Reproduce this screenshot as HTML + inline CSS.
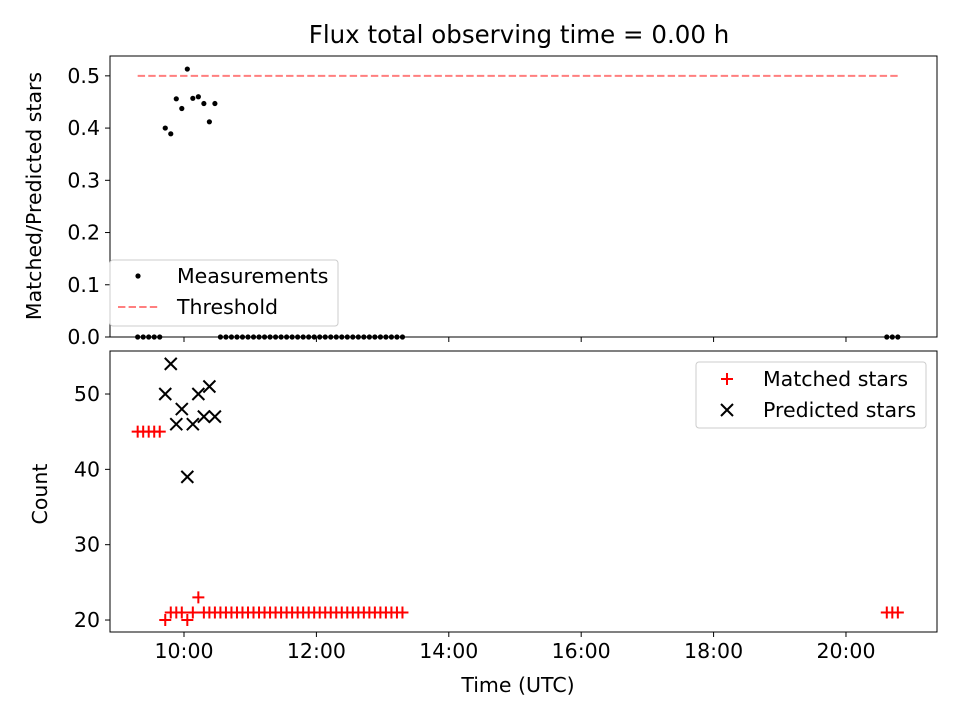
<!DOCTYPE html>
<html><head><meta charset="utf-8"><style>
body{margin:0;background:#fff;font-family:"Liberation Sans","DejaVu Sans",sans-serif}
svg text{font-family:"DejaVu Sans","Liberation Sans",sans-serif}
</style></head><body>
<svg id="c" width="960" height="720" xmlns="http://www.w3.org/2000/svg"></svg>
<script>
const times=["9:18","9:23","9:28","9:33","9:38","9:43","9:48","9:53","9:58","10:03","10:08","10:13","10:18","10:23","10:28","10:33","10:38","10:43","10:48","10:53","10:58","11:03","11:08","11:13","11:18","11:23","11:28","11:33","11:38","11:43","11:48","11:53","11:58","12:03","12:08","12:13","12:18","12:23","12:28","12:33","12:38","12:43","12:48","12:53","12:58","13:03","13:08","13:13","13:18","20:37","20:42","20:47"];
const ratio=[0,0,0,0,0,0.400,0.389,0.456,0.4375,0.513,0.457,0.46,0.447,0.412,0.447,0,0,0,0,0,0,0,0,0,0,0,0,0,0,0,0,0,0,0,0,0,0,0,0,0,0,0,0,0,0,0,0,0,0,0,0,0];
const matched=[45,45,45,45,45,20,21,21,21,20,21,23,21,21,21,21,21,21,21,21,21,21,21,21,21,21,21,21,21,21,21,21,21,21,21,21,21,21,21,21,21,21,21,21,21,21,21,21,21,21,21,21];
const predicted=[null,null,null,null,null,50,54,46,48,39,46,50,47,51,47];
const threshold=0.5, thrStart="9:18", thrEnd="20:47";
const xTicks=["10:00","12:00","14:00","16:00","18:00","20:00"];
const topTicks=[0,0.1,0.2,0.3,0.4,0.5];
const botTicks=[20,30,40,50];

const svg=document.getElementById('c');const NS="http://www.w3.org/2000/svg";
function el(t,a,p){const e=document.createElementNS(NS,t);for(const k in a)e.setAttribute(k,a[k]);(p||svg).appendChild(e);return e;}
function hrs(s){const [h,m]=s.split(':').map(Number);return h+m/60;}
const L=110,R=937,T1=56,B1=337,T2=351,B2=632;
const FS=20.5;
const x=h=>L+(h-8.882)/(21.375-8.882)*(R-L);
const y1=v=>B1-(v-0)/(0.538)*(B1-T1);
const y2=v=>B2-(v-18.41)/(55.71-18.41)*(B2-T2);
function txt(s,a,name){const e=el('text',a);e.textContent=s;return e;}

txt("Flux total observing time = 0.00 h",{x:519,y:43,'text-anchor':'middle','font-size':24.5},'chart-title');
const g1=el('g',{});
const g2=el('g',{});
const th=el('line',{x1:x(hrs(thrStart)),x2:x(hrs(thrEnd)),y1:y1(threshold),y2:y1(threshold),stroke:'#ff7f7f','stroke-width':2,'stroke-dasharray':'7.4,3.2'},g1);

times.forEach((t,i)=>{const c=el('circle',{cx:x(hrs(t)),cy:y1(ratio[i]),r:2.6,fill:'#000'},g1);
});
times.forEach((t,i)=>{const px=x(hrs(t)),py=y2(matched[i]);const p=el('path',{d:`M${px-6},${py}H${px+6}M${px},${py-6}V${py+6}`,stroke:'#f00','stroke-width':2},g2);
});
predicted.forEach((v,i)=>{if(v==null)return;const px=x(hrs(times[i])),py=y2(v);const p=el('path',{d:`M${px-6},${py-6}L${px+6},${py+6}M${px-6},${py+6}L${px+6},${py-6}`,stroke:'#000','stroke-width':2},g2);
});
[[T1,B1,'top-frame'],[T2,B2,'bottom-frame']].forEach(([t,b,n])=>{const r=el('rect',{x:L,y:t,width:R-L,height:b-t,fill:'none',stroke:'#000','stroke-width':1});});
xTicks.forEach(s=>{const px=x(hrs(s));
el('line',{x1:px,x2:px,y1:B1,y2:B1+5,stroke:'#000'});
el('line',{x1:px,x2:px,y1:B2,y2:B2+5,stroke:'#000'});
txt(s,{x:px,y:B2+26,'text-anchor':'middle','font-size':FS},'x-tick-label');});
topTicks.forEach(v=>{const py=y1(v);el('line',{x1:L-5,x2:L,y1:py,y2:py,stroke:'#000'});
txt(v.toFixed(1),{x:L-10,y:py+7,'text-anchor':'end','font-size':FS},'top-y-tick-label');});
botTicks.forEach(v=>{const py=y2(v);el('line',{x1:L-5,x2:L,y1:py,y2:py,stroke:'#000'});
txt(String(v),{x:L-10,y:py+7,'text-anchor':'end','font-size':FS},'bottom-y-tick-label');});
txt("Matched/Predicted stars",{x:41,y:196,'text-anchor':'middle','font-size':FS,transform:'rotate(-90 41 196)'},'top-y-axis-title');
txt("Count",{x:47,y:494,'text-anchor':'middle','font-size':FS,transform:'rotate(-90 47 494)'},'bottom-y-axis-title');
txt("Time (UTC)",{x:518,y:692,'text-anchor':'middle','font-size':FS},'x-axis-title');
let lg=el('rect',{x:110,y:260,width:228,height:66,rx:3,fill:'#fff','fill-opacity':0.8,stroke:'#ccc'});
el('circle',{cx:138,cy:276,r:2.6,fill:'#000'});
txt("Measurements",{x:177,y:283,'font-size':FS},'legend-entry-measurements');
el('line',{x1:118,x2:158,y1:307,y2:307,stroke:'#ff7f7f','stroke-width':2,'stroke-dasharray':'7.4,3.2'});
txt("Threshold",{x:177,y:314,'font-size':FS},'legend-entry-threshold');
lg=el('rect',{x:696,y:362,width:230,height:66,rx:3,fill:'#fff','fill-opacity':0.8,stroke:'#ccc'});
el('path',{d:'M721,379H733M727,373V385',stroke:'#f00','stroke-width':2});
txt("Matched stars",{x:763,y:386,'font-size':FS},'legend-entry-matched');
el('path',{d:'M721,404L733,416M721,416L733,404',stroke:'#000','stroke-width':2});
txt("Predicted stars",{x:763,y:417,'font-size':FS},'legend-entry-predicted');
</script>
</body></html>
